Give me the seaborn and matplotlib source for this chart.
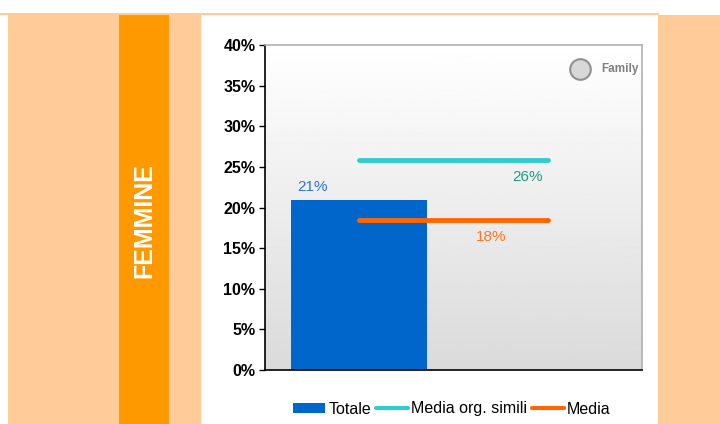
from matplotlib import pyplot as plt
from matplotlib.patches import Rectangle, Patch
from matplotlib.lines import Line2D
import seaborn as sns
import pandas as pd
import numpy as np

categories = ["Totale", "Confronto"]
totale = [20.9, np.nan]
media_simili = 25.85
media = 18.45
y_ticks = [0, 5, 10, 15, 20, 25, 30, 35, 40]
panel_label = "FEMMINE"

sns.set_style("white")
plt.rcParams['font.family'] = ['Liberation Sans', 'DejaVu Sans']
plt.rcParams['text.color'] = 'black'
plt.rcParams['ytick.color'] = 'black'

W, H = 720, 424
fig = plt.figure(figsize=(W / 100, H / 100), dpi=100)
fig.patch.set_facecolor("white")


def px(x0, y0, x1, y1):
    # pixel box (top-left origin) -> figure fraction rectangle args
    return (x0 / W, 1 - y1 / H), (x1 - x0) / W, (y1 - y0) / H


peach = "#FFCC99"
for box, col in [((8, 15, 201, 424), peach), ((119, 15, 169, 424), "#FF9900"),
                 ((658, 15, 720, 424), peach)]:
    xy, w, h = px(*box)
    fig.patches.append(Rectangle(xy, w, h, transform=fig.transFigure,
                                 facecolor=col, edgecolor="none", zorder=0))
fig.lines.append(Line2D([0, 658 / W], [1 - 14 / H] * 2, transform=fig.transFigure,
                        color=peach, lw=1.5))
fig.text(144 / W, 1 - 221 / H, panel_label, rotation=90, color="white",
         fontsize=18, fontweight="bold", ha="center", va="center")

ax = fig.add_axes([265 / W, 1 - 370 / H, (642 - 265) / W, (370 - 45) / H])

# gradient background of the plot area
grad = np.linspace(1.0, 0.855, 256).reshape(-1, 1)
ax.imshow(grad, cmap="gray", vmin=0, vmax=1, aspect="auto",
          extent=[0, 1, 0, 1], transform=ax.transAxes, zorder=0)

df = pd.DataFrame({"cat": categories, "val": totale})
sns.barplot(data=df, x="cat", y="val", order=categories, color="#0066CC",
            saturation=1, width=0.72, edgecolor="none", ax=ax, zorder=2)

pos = np.arange(len(categories))
sns.lineplot(x=pos, y=[media_simili] * len(pos), color="#33CCCC", lw=3.5,
             solid_capstyle="round", ax=ax, zorder=3, legend=False)
sns.lineplot(x=pos, y=[media] * len(pos), color="#FF6600", lw=3.5,
             solid_capstyle="round", ax=ax, zorder=3, legend=False)

ax.set_xlim(-0.5, len(categories) - 0.5)
ax.set_ylim(0, 40)
ax.set_yticks(y_ticks)
ax.set_yticklabels([f"{t}%" for t in y_ticks], fontweight="bold", fontsize=11.5,
                   color="black")
ax.set_xticks([])
ax.set_xlabel("")
ax.set_ylabel("")
ax.tick_params(axis="y", left=True, length=4, width=1, color="black", pad=3)

for s in ["left", "bottom"]:
    ax.spines[s].set_color("black")
    ax.spines[s].set_linewidth(1.2)
for s in ["top", "right"]:
    ax.spines[s].set_color("#b0b0b0")
    ax.spines[s].set_linewidth(1.2)

ax.annotate(f"{round(totale[0])}%", xy=(0, totale[0]), xytext=(-47, 13),
            textcoords="offset pixels", ha="center", va="center",
            color="#2F74D0", fontsize=11)
ax.annotate(f"{round(media_simili)}%", xy=(1, media_simili), xytext=(-20, -17),
            textcoords="offset pixels", ha="center", va="center",
            color="#229988", fontsize=11)
ax.annotate(f"{round(media)}%", xy=(1, media), xytext=(-57, -17),
            textcoords="offset pixels", ha="center", va="center",
            color="#FF7722", fontsize=11)

# logo placeholder
ax.text(0.99, 0.925, "Family", transform=ax.transAxes, ha="right", va="center",
        color="#808080", fontsize=8.5, fontweight="bold")
ax.scatter([0.835], [0.925], s=220, transform=ax.transAxes, facecolor="#d8d8d8",
           edgecolor="#909090", lw=1.5, zorder=4)

handles = [Patch(facecolor="#0066CC", edgecolor="none"),
           Line2D([], [], color="#33CCCC", lw=3),
           Line2D([], [], color="#FF6600", lw=3)]
fig.legend(handles, ["Totale", "Media org. simili", "Media"], ncol=3,
           loc="center", bbox_to_anchor=(452 / W, 1 - 409 / H), frameon=False,
           fontsize=11.5, handlelength=2.0, handleheight=0.55, handletextpad=0.2,
           columnspacing=0.3, borderpad=0)

fig.savefig("out.png", dpi=100)
